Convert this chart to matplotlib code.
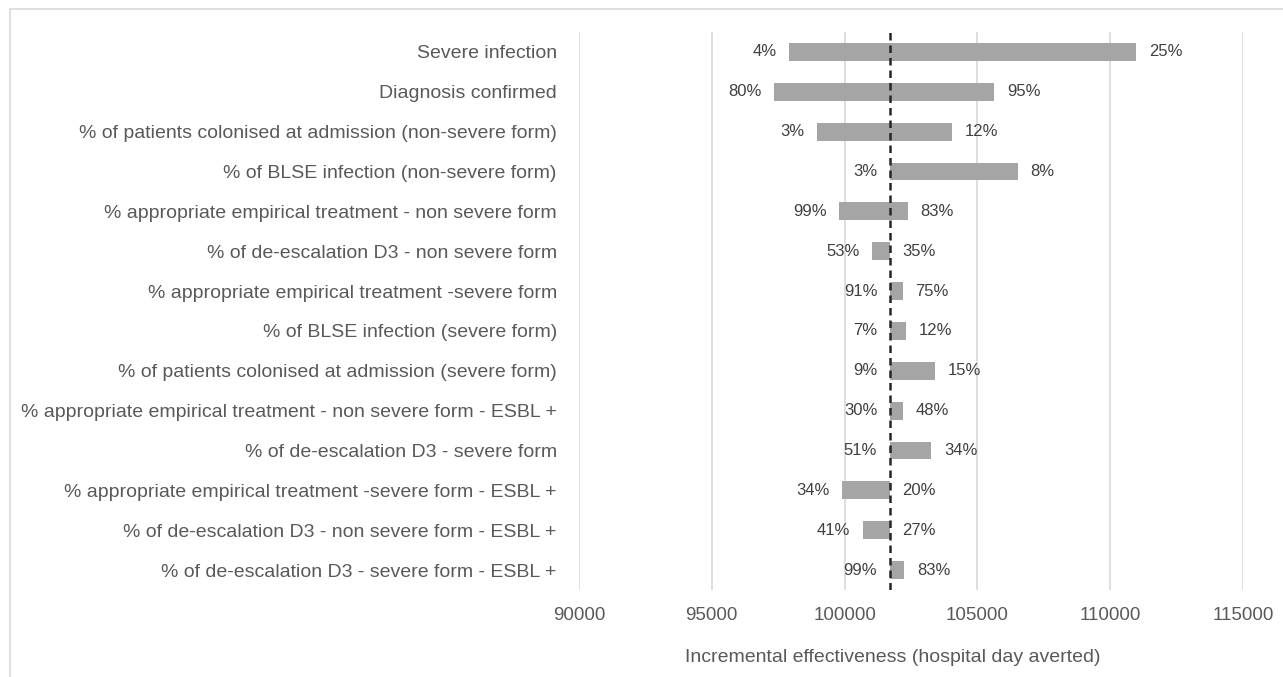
import numpy as np
import matplotlib
matplotlib.use('Agg')
import matplotlib.pyplot as plt
from matplotlib.patches import Rectangle

# tornado chart data
params = ['Severe infection',
          'Diagnosis confirmed',
          '% of patients colonised at admission (non-severe form)',
          '% of BLSE infection (non-severe form)',
          '% appropriate empirical treatment - non severe form',
          '% of de-escalation D3 - non severe form',
          '% appropriate empirical treatment -severe form',
          '% of BLSE infection (severe form)',
          '% of patients colonised at admission (severe form)',
          '% appropriate empirical treatment - non severe form - ESBL +',
          '% of de-escalation D3 - severe form',
          '% appropriate empirical treatment -severe form - ESBL +',
          '% of de-escalation D3 - non severe form - ESBL +',
          '% of de-escalation D3 - severe form - ESBL +']
base = 101700
low_end = [97920, 97330, 98950, 101700, 99790, 101040, 101700,
           101700, 101700, 101700, 101700, 99920, 100690, 101700]
high_end = [110980, 105640, 104045, 106520, 102390, 101700, 102180,
            102330, 103420, 102210, 103270, 101700, 101700, 102250]
low_lab = ['4%', '80%', '3%', '3%', '99%', '53%', '91%',
           '7%', '9%', '30%', '51%', '34%', '41%', '99%']
high_lab = ['25%', '95%', '12%', '8%', '83%', '35%', '75%',
            '12%', '15%', '48%', '34%', '20%', '27%', '83%']
xticks = [90000, 95000, 100000, 105000, 110000, 115000]

plt.rcParams['font.family'] = ['Liberation Sans', 'DejaVu Sans']

fig = plt.figure(figsize=(12.83, 6.77), dpi=100)
# outer frame of the chart area
fig.patches.append(Rectangle((10/1283, -0.1), 1.2, 1 - 9/677 + 0.1,
                             transform=fig.transFigure, fill=False,
                             edgecolor='#d9d9d9', linewidth=1.2))
ax = fig.add_axes([579/1283, 1 - 590/677, 664/1283, 558/677])

y = np.arange(len(params))
left = np.minimum(low_end, base)
right = np.maximum(high_end, base)
ax.barh(y, np.array(left) - base, left=base, height=0.45, color='#a5a5a5', zorder=2)
ax.barh(y, np.array(right) - base, left=base, height=0.45, color='#a5a5a5', zorder=2)

for i in range(len(params)):
    ax.annotate(low_lab[i], (left[i], y[i]), xytext=(-9, 0), textcoords='offset points',
                ha='right', va='center', fontsize=12, color='#404040')
    ax.annotate(high_lab[i], (right[i], y[i]), xytext=(9, 0), textcoords='offset points',
                ha='left', va='center', fontsize=12, color='#404040')

ax.axvline(base, color='#262626', linestyle=(0, (3, 2)), linewidth=1.8, zorder=3)

ax.set_xlim(90000, 115000)
ax.set_ylim(len(params) - 0.5, -0.5)
ax.set_xticks(xticks)
ax.set_xticklabels([str(t) for t in xticks])
ax.set_yticks(y)
ax.set_yticklabels(params, fontsize=14)
ax.tick_params(axis='both', length=0, colors='#595959')
ax.tick_params(axis='x', labelsize=13.5, pad=12)
ax.tick_params(axis='y', pad=16)
ax.grid(axis='x', color='#d9d9d9', linewidth=1.2, zorder=0)
for s in ax.spines.values():
    s.set_visible(False)
ax.set_xlabel('Incremental effectiveness (hospital day averted)', fontsize=14,
              color='#595959')
ax.xaxis.set_label_coords(0.473, -0.105)

fig.savefig('out.png', dpi=100)
